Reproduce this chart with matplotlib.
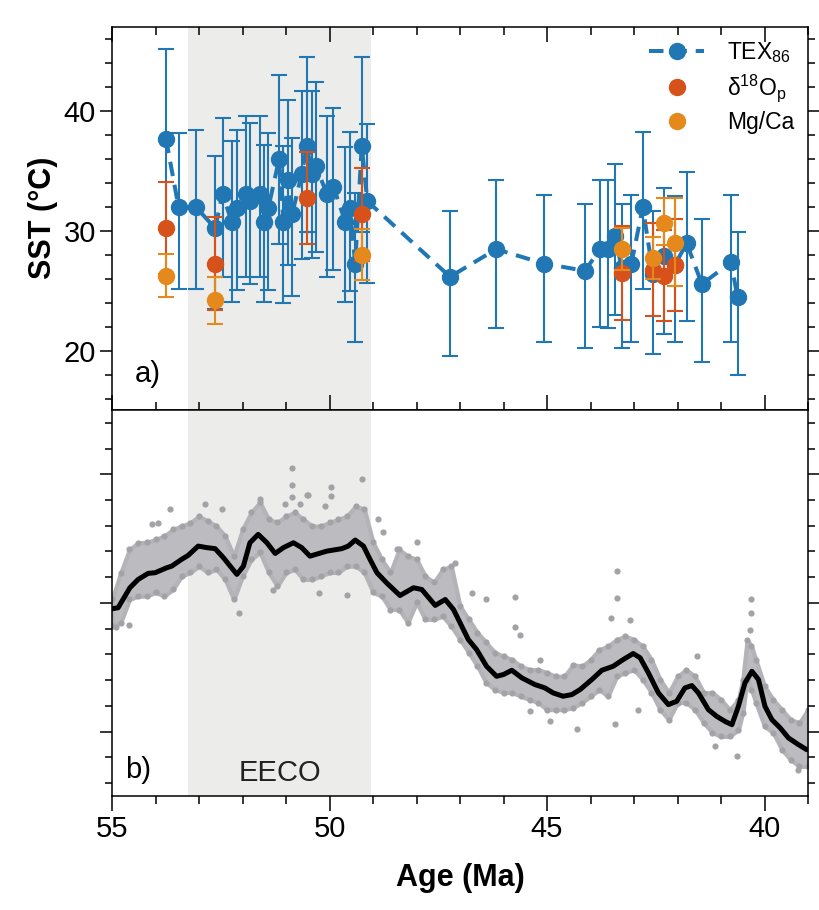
import matplotlib
matplotlib.use("Agg")
import matplotlib.pyplot as plt
from matplotlib.ticker import MultipleLocator

# panel a) SST estimates
tex_age = [53.76, 53.47, 53.07, 52.63, 52.46, 52.25, 52.13, 51.93, 51.83, 51.60,
           51.50, 51.41, 51.16, 51.06, 50.95, 50.86, 50.64, 50.52, 50.41, 50.31,
           50.06, 49.91, 49.64, 49.53, 49.41, 49.26, 49.13,
           47.23, 46.17, 45.07, 44.13, 43.78, 43.60, 43.44, 43.28, 43.06, 42.80,
           42.56, 42.31, 42.06, 41.79, 41.44, 40.77, 40.62]
tex_sst = [37.7, 32.0, 32.0, 30.25, 33.1, 30.8, 31.9, 33.1, 32.5, 33.1,
           30.8, 31.9, 36.0, 30.8, 34.3, 31.4, 34.8, 37.1, 34.8, 35.4,
           33.1, 33.7, 30.8, 31.9, 27.3, 37.1, 32.5,
           26.2, 28.5, 27.3, 26.7, 28.5, 28.5, 29.6, 26.9, 27.3, 32.0,
           26.4, 27.9, 27.2, 29.0, 25.6, 27.4, 24.5]
tex_hi = [7.5, 6.2, 6.4, 6.05, 6.3, 6.75, 6.5, 6.5, 6.5, 6.5,
          6.4, 6.3, 7.0, 6.3, 6.6, 6.4, 6.9, 7.45, 6.9, 7.0,
          6.5, 6.55, 6.2, 6.4, 5.9, 7.45, 6.4,
          5.5, 5.8, 5.7, 5.6, 5.8, 5.8, 6.0, 5.4, 5.75, 6.3,
          5.3, 5.7, 5.7, 5.9, 5.4, 5.65, 5.4]
tex_lo = [7.5, 6.8, 6.8, 6.75, 6.9, 6.7, 6.8, 6.9, 6.9, 6.9,
          6.7, 6.8, 7.1, 6.75, 7.1, 6.8, 7.1, 7.2, 7.0, 7.15,
          6.9, 6.9, 6.7, 6.85, 6.5, 7.2, 6.8,
          6.6, 6.6, 6.5, 6.4, 6.5, 6.6, 6.6, 6.65, 6.5, 6.85,
          6.65, 6.5, 6.4, 6.5, 6.5, 6.6, 6.5]

d18o_age = [53.76, 52.63, 50.52, 49.26, 43.28, 42.56, 42.31, 42.06]
d18o_sst = [30.25, 27.3, 32.75, 31.4, 26.5, 26.8, 26.3, 27.2]
d18o_err = [3.85, 3.85, 3.85, 3.85, 3.9, 3.85, 3.8, 3.85]

mgca_age = [53.76, 52.63, 49.26, 43.28, 42.56, 42.31, 42.06]
mgca_sst = [26.3, 24.3, 28.0, 28.5, 27.75, 30.7, 29.0]
mgca_hi = [1.8, 1.9, 2.2, 1.8, 1.75, 2.05, 3.8]
mgca_lo = [1.75, 2.0, 2.1, 1.7, 1.75, 1.85, 3.6]

eeco = (53.25, 49.05)

# panel b) high resolution record (no units shown)
curve_age = [55.0, 54.86, 54.59, 54.40, 54.17, 54.01, 53.74, 53.63, 53.40, 53.25,
             53.02, 52.82, 52.63, 52.44, 52.13, 51.98, 51.83, 51.64, 51.44, 51.25,
             51.06, 50.83, 50.64, 50.45, 50.06, 49.72, 49.57, 49.41, 49.22, 49.07,
             48.91, 48.69, 48.38, 48.07, 47.88, 47.57, 47.34, 47.15, 46.96, 46.81,
             46.62, 46.39, 46.16, 46.00, 45.81, 45.58, 45.28, 45.05, 44.86, 44.63,
             44.43, 44.24, 43.97, 43.74, 43.48, 43.25, 43.02, 42.86, 42.67, 42.44,
             42.21, 42.02, 41.83, 41.67, 41.52, 41.29, 41.10, 40.91, 40.75, 40.60,
             40.45, 40.29, 40.14, 39.99, 39.83, 39.64, 39.45, 39.22, 39.03]
curve_val = [1.955, 1.963, 2.118, 2.183, 2.230, 2.235, 2.274, 2.286, 2.339, 2.370,
             2.442, 2.430, 2.422, 2.352, 2.222, 2.286, 2.468, 2.533, 2.468, 2.385,
             2.430, 2.468, 2.430, 2.364, 2.403, 2.422, 2.442, 2.489, 2.442, 2.339,
             2.235, 2.157, 2.058, 2.118, 2.105, 1.981, 2.027, 1.949, 1.819, 1.716,
             1.638, 1.508, 1.430, 1.444, 1.477, 1.418, 1.366, 1.340, 1.301, 1.275,
             1.288, 1.327, 1.405, 1.477, 1.508, 1.560, 1.607, 1.574, 1.457, 1.301,
             1.210, 1.236, 1.340, 1.358, 1.301, 1.171, 1.119, 1.080, 1.054, 1.197,
             1.379, 1.469, 1.405, 1.197, 1.093, 1.029, 0.951, 0.899, 0.860]

# dense part of the scatter, read as upper / lower edge
band_age = [55.0, 54.8, 54.6, 54.4, 54.2, 54.0, 53.8, 53.6, 53.4, 53.2,
            53.0, 52.8, 52.6, 52.4, 52.2, 52.0, 51.8, 51.6, 51.4, 51.2,
            51.0, 50.8, 50.6, 50.4, 50.2, 50.0, 49.8, 49.6, 49.4, 49.2,
            49.0, 48.8, 48.6, 48.4, 48.2, 48.0, 47.8, 47.6, 47.4, 47.2,
            47.0, 46.8, 46.6, 46.4, 46.2, 46.0, 45.8, 45.6, 45.4, 45.2,
            45.0, 44.8, 44.6, 44.4, 44.2, 44.0, 43.8, 43.6, 43.4, 43.2,
            43.0, 42.8, 42.6, 42.4, 42.2, 42.0, 41.8, 41.6, 41.4, 41.2,
            41.0, 40.8, 40.6, 40.5, 40.4, 40.3, 40.2, 40.0, 39.8, 39.6,
            39.4, 39.2, 39.0]
band_hi = [2.027, 2.235, 2.416, 2.468, 2.471, 2.494, 2.520, 2.572, 2.598, 2.624,
           2.675, 2.637, 2.598, 2.520, 2.364, 2.572, 2.704, 2.782, 2.650, 2.626,
           2.675, 2.704, 2.650, 2.598, 2.598, 2.626, 2.650, 2.675, 2.753, 2.728,
           2.471, 2.339, 2.237, 2.416, 2.364, 2.339, 2.209, 2.160, 2.261, 2.286,
           1.975, 1.872, 1.770, 1.693, 1.615, 1.586, 1.560, 1.508, 1.482, 1.482,
           1.459, 1.430, 1.430, 1.521, 1.508, 1.560, 1.638, 1.664, 1.716, 1.742,
           1.716, 1.664, 1.560, 1.405, 1.304, 1.430, 1.482, 1.430, 1.304, 1.304,
           1.249, 1.171, 1.249, 1.405, 1.716, 1.664, 1.560, 1.353, 1.249, 1.171,
           1.093, 1.070, 1.171]
band_lo = [1.819, 1.848, 2.027, 2.053, 2.053, 2.082, 2.053, 2.105, 2.209, 2.237,
           2.286, 2.237, 2.261, 2.183, 2.027, 2.209, 2.339, 2.393, 2.237, 2.131,
           2.237, 2.261, 2.183, 2.183, 2.209, 2.237, 2.237, 2.286, 2.286, 2.237,
           2.082, 2.053, 1.949, 1.949, 1.848, 2.004, 1.872, 1.872, 1.897, 1.819,
           1.716, 1.615, 1.508, 1.381, 1.327, 1.304, 1.304, 1.275, 1.249, 1.226,
           1.171, 1.171, 1.171, 1.187, 1.226, 1.275, 1.327, 1.275, 1.430, 1.459,
           1.482, 1.405, 1.304, 1.171, 1.093, 1.226, 1.226, 1.171, 1.070, 0.992,
           0.963, 0.963, 1.016, 1.148, 1.405, 1.327, 1.226, 1.041, 0.992, 0.860,
           0.782, 0.730, 0.730]

# scattered points outside the dense part
dot_age = [50.86, 50.86, 50.86, 49.96, 49.96, 50.52, 53.66, 52.86, 52.47, 51.59,
           51.02, 54.08, 49.60, 52.09, 50.25, 54.92, 54.62, 49.26, 48.76, 48.88,
           50.49, 50.69, 47.98, 48.46, 47.12, 46.73, 46.40, 45.74, 45.74, 45.62,
           45.16, 43.40, 43.40, 43.52, 43.09, 41.56, 40.30, 40.30, 40.33, 43.44,
           42.90, 44.32, 44.93, 41.14, 40.64, 39.22, 45.39, 53.95, 51.30, 50.10]
dot_val = [3.05, 2.92, 2.82, 2.90, 2.83, 2.84, 2.73, 2.77, 2.73, 2.81,
           2.77, 2.61, 2.06, 1.92, 2.08, 1.81, 1.83, 2.96, 2.55, 2.65,
           2.84, 2.77, 2.47, 2.42, 2.31, 2.08, 2.03, 2.05, 1.81, 1.75,
           1.56, 2.25, 2.04, 1.88, 1.87, 1.59, 2.03, 1.92, 1.79, 1.06,
           1.17, 1.02, 1.08, 0.89, 0.81, 0.70, 1.16, 2.62, 2.10, 2.75]

BLUE = "#2077b4"
RED = "#d6521a"
ORANGE = "#e5891c"
DOT = "#a2a2a7"


def style_axis(ax, top, bottom):
    ax.tick_params(which="both", direction="out", width=1.1, labelsize=21,
                   left=True, right=True, top=top, bottom=bottom)
    ax.tick_params(which="major", length=8.5, pad=3)
    ax.tick_params(which="minor", length=5)
    for side in ax.spines.values():
        side.set_linewidth(1.1)


def make_plot():
    plt.rcParams["font.family"] = ["Liberation Sans", "DejaVu Sans"]
    plt.rcParams["mathtext.default"] = "regular"

    fig = plt.figure(figsize=(8.19, 9.10), dpi=100)
    ax1 = fig.add_axes([0.1368, 0.5495, 0.8498, 0.4212])
    ax2 = fig.add_axes([0.1368, 0.1253, 0.8498, 0.4242], sharex=ax1)

    for ax in (ax1, ax2):
        ax.axvspan(eeco[0], eeco[1], color="#ececea", lw=0, zorder=0)

    # a) SST proxies
    ax1.errorbar(tex_age, tex_sst, yerr=[tex_lo, tex_hi], fmt="none",
                 ecolor=BLUE, elinewidth=1.5, capsize=5.5, capthick=1.5, zorder=2)
    tex_line, = ax1.plot(tex_age, tex_sst, color=BLUE, ls=(0, (3.6, 2.2)), lw=2.9,
                         marker="o", ms=11.5, zorder=3, label=r"TEX$_{86}$")
    ax1.errorbar(d18o_age, d18o_sst, yerr=d18o_err, fmt="none", ecolor=RED,
                 elinewidth=1.5, capsize=5.5, capthick=1.5, zorder=4)
    d18_pts, = ax1.plot(d18o_age, d18o_sst, "o", color=RED, ms=11.5, zorder=5,
                        label=r"$\delta^{18}$O$_{p}$")
    ax1.errorbar(mgca_age, mgca_sst, yerr=[mgca_lo, mgca_hi], fmt="none",
                 ecolor=ORANGE, elinewidth=1.5, capsize=5.5, capthick=1.5, zorder=6)
    mg_pts, = ax1.plot(mgca_age, mgca_sst, "o", color=ORANGE, ms=11.5, zorder=7,
                       label="Mg/Ca")

    ax1.legend(handles=[tex_line, d18_pts, mg_pts], loc="upper right",
               frameon=False, fontsize=16.5, handlelength=2.4, labelspacing=0.3,
               borderaxespad=0.2, handletextpad=1.0)

    ax1.set_xlim(55, 39)
    ax1.set_ylim(15.1, 47.05)
    ax1.yaxis.set_major_locator(MultipleLocator(10))
    ax1.yaxis.set_minor_locator(MultipleLocator(2))
    ax1.xaxis.set_major_locator(MultipleLocator(5))
    ax1.xaxis.set_minor_locator(MultipleLocator(1))
    style_axis(ax1, top=True, bottom=True)
    ax1.tick_params(axis="x", which="both", bottom=True, direction="in",
                    labelbottom=False)
    ax1.tick_params(axis="x", which="major", length=11)
    ax1.tick_params(axis="x", which="minor", length=6)
    ax1.tick_params(axis="x", which="both", top=True)
    ax1.set_ylabel("SST (°C)", fontsize=22, fontweight="bold", labelpad=4)
    ax1.text(0.033, 0.094, "a)", transform=ax1.transAxes, fontsize=21,
             ha="left", va="center")

    # b) record with smoothed curve
    ax2.fill_between(band_age, band_lo, band_hi, facecolor="#bcbcc0",
                     edgecolor="#b4b4b8", lw=3.0, zorder=1)
    ax2.scatter(band_age, band_hi, s=20, color=DOT, lw=0, zorder=2)
    ax2.scatter(band_age, band_lo, s=20, color=DOT, lw=0, zorder=2)
    ax2.scatter(dot_age, dot_val, s=20, color=DOT, lw=0, zorder=2)
    ax2.plot(curve_age, curve_val, color="black", lw=3.6, zorder=3,
             solid_capstyle="round", solid_joinstyle="round")

    ax2.set_ylim(0.5, 3.5)
    ax2.yaxis.set_major_locator(MultipleLocator(1))
    ax2.yaxis.set_minor_locator(MultipleLocator(0.2))
    style_axis(ax2, top=False, bottom=True)
    ax2.tick_params(axis="y", labelleft=False)
    ax2.tick_params(axis="x", which="major", length=11)
    ax2.tick_params(axis="x", which="minor", length=6)
    ax2.set_xlabel("Age (Ma)", fontsize=22, fontweight="bold", labelpad=14)
    ax2.text(0.019, 0.067, "b)", transform=ax2.transAxes, fontsize=21,
             ha="left", va="center")
    ax2.text(sum(eeco) / 2, 0.06, "EECO", transform=ax2.get_xaxis_transform(),
             fontsize=21, ha="center", va="center", color="#222222")

    fig.savefig("out.png", dpi=100)
    print("plot saved to out.png")


if __name__ == "__main__":
    make_plot()
